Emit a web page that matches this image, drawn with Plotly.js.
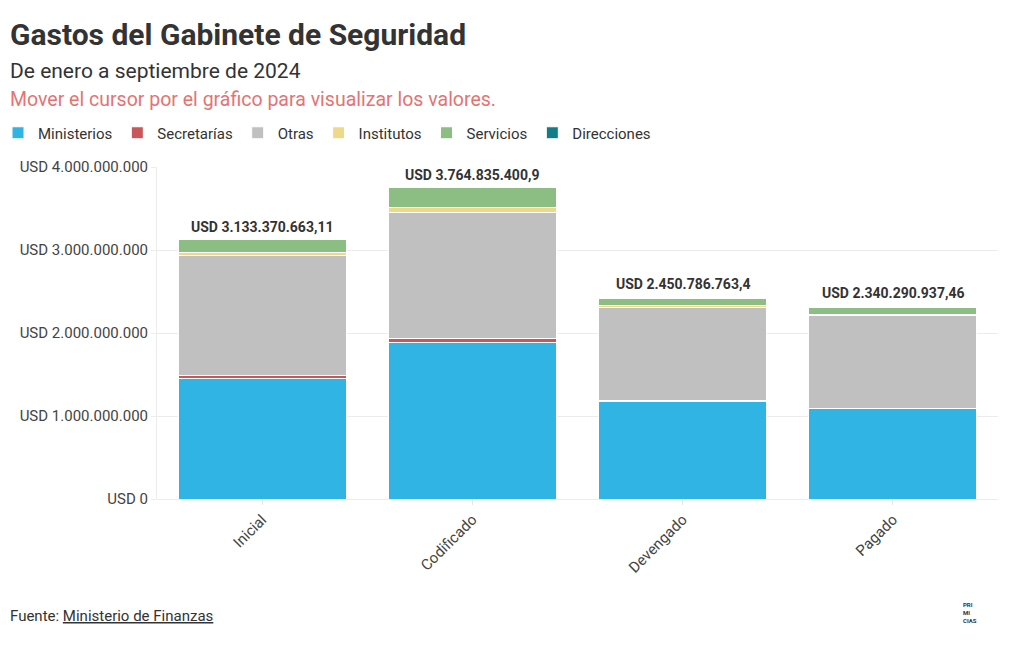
<!DOCTYPE html>
<html>
<head>
<meta charset="utf-8">
<script src="https://cdn.plot.ly/plotly-3.0.1.min.js"></script>
<style>
  html, body { margin: 0; padding: 0; background: #fff; }
  #chart { width: 1020px; height: 650px; }
</style>
</head>
<body>
<div id="chart"></div>
<script>
// ---- Data ----
const categories = ["Inicial", "Codificado", "Devengado", "Pagado"];
const ministerios = [1446000000, 1883000000, 1170000000, 1085000000];
const secretarias = [48000000, 45000000, 12000000, 10000000];
const otras       = [1434000000, 1520000000, 1130000000, 1115000000];
const institutos  = [45000000, 65000000, 15000000, 15000000];
const servicios   = [155000000, 245000000, 85000000, 80000000];
const direcciones = [5000000, 7000000, 5000000, 5000000];
const totals      = [3133370663.11, 3764835400.9, 2450786763.4, 2340290937.46];

const seriesNames  = ["Ministerios", "Secretarías", "Otras", "Institutos", "Servicios", "Direcciones"];
const seriesValues = [ministerios, secretarias, otras, institutos, servicios, direcciones];
const seriesColors = ["#30B4E3", "#C9565A", "#C0C0C0", "#F0D88A", "#8CBE84", "#137C89"];

const FONT = "Roboto, 'Noto Sans', sans-serif";

function fmtUSD(n) {
  const s = String(n);
  const parts = s.split(".");
  const intPart = parts[0].replace(/\B(?=(\d{3})+(?!\d))/g, ".");
  return "USD " + intPart + (parts[1] ? "," + parts[1] : "");
}

const traces = seriesNames.map((name, i) => ({
  type: "bar",
  name: name,
  x: categories,
  y: seriesValues[i],
  marker: { color: seriesColors[i], line: { color: "#ffffff", width: 1 } },
  hovertemplate: name + ": %{y:,.0f}<extra></extra>"
}));

// Plot area geometry for paper-coordinate conversions
const L = 157, R = 22, T = 167, B = 151, W = 1020, H = 650;
const pw = W - L - R, ph = H - T - B;
const px = x => (x - L) / pw;
const py = y => (H - B - y) / ph;

const annotations = [
  { text: "<b>Gastos del Gabinete de Seguridad</b>", x: px(8), y: py(35), xanchor: "left", yanchor: "middle",
    font: { size: 30, color: "#333333", family: FONT } },
  { text: "De enero a septiembre de 2024", x: px(8), y: py(71), xanchor: "left", yanchor: "middle",
    font: { size: 21, color: "#333333", family: FONT } },
  { text: "Mover el cursor por el gráfico para visualizar los valores.", x: px(8), y: py(100), xanchor: "left", yanchor: "middle",
    font: { size: 19.5, color: "#E57373", family: FONT } },
  { text: "Fuente: <span style=\"text-decoration:underline\">Ministerio de Finanzas</span>", x: px(8), y: py(616),
    xanchor: "left", yanchor: "middle", font: { size: 15, color: "#333333", family: FONT } },
  { text: "<b>PRI<br>MI<br>CIAS</b>", x: px(970), y: py(612), xanchor: "center", yanchor: "middle",
    font: { size: 6, color: "#333333", family: FONT } }
].map(a => Object.assign({ xref: "paper", yref: "paper", showarrow: false, align: "left" }, a));

categories.forEach((c, i) => {
  annotations.push({
    x: c, y: totals[i], xref: "x", yref: "y", yanchor: "bottom", yshift: 2,
    text: "<b>" + fmtUSD(totals[i]) + "</b>", showarrow: false,
    font: { size: 14, color: "#333333", family: FONT }
  });
});

const layout = {
  width: W, height: H,
  margin: { l: L, r: R, t: T, b: B, pad: 0, autoexpand: false },
  paper_bgcolor: "#ffffff", plot_bgcolor: "#ffffff",
  barmode: "stack", bargap: 0.2,
  separators: ",.",
  font: { family: FONT, size: 15, color: "#444444" },
  showlegend: true,
  legend: {
    orientation: "h", x: px(-2), y: py(133), xanchor: "left", yanchor: "middle",
    font: { size: 15, color: "#333333", family: FONT }, traceorder: "normal",
    itemwidth: 30, tracegroupgap: 0
  },
  xaxis: {
    type: "category", tickangle: -45, ticks: "outside", ticklen: 5, tickcolor: "#e6e6e6",
    showline: false, showgrid: false, tickfont: { size: 15, color: "#444444" }, fixedrange: true,
    automargin: false
  },
  yaxis: {
    range: [0, 4000000000], dtick: 1000000000, tickprefix: "USD ", tickformat: ",.0f",
    showgrid: true, gridcolor: "#ececec", gridwidth: 1, zeroline: true, zerolinecolor: "#ececec",
    showline: true, linecolor: "#ececec", ticks: "outside", ticklen: 5, tickcolor: "#ececec",
    tickfont: { size: 15, color: "#444444" }, fixedrange: true, automargin: false
  },
  annotations: annotations,
  hovermode: "x unified"
};

Plotly.newPlot("chart", traces, layout, { displayModeBar: false, responsive: false });
</script>
</body>
</html>
